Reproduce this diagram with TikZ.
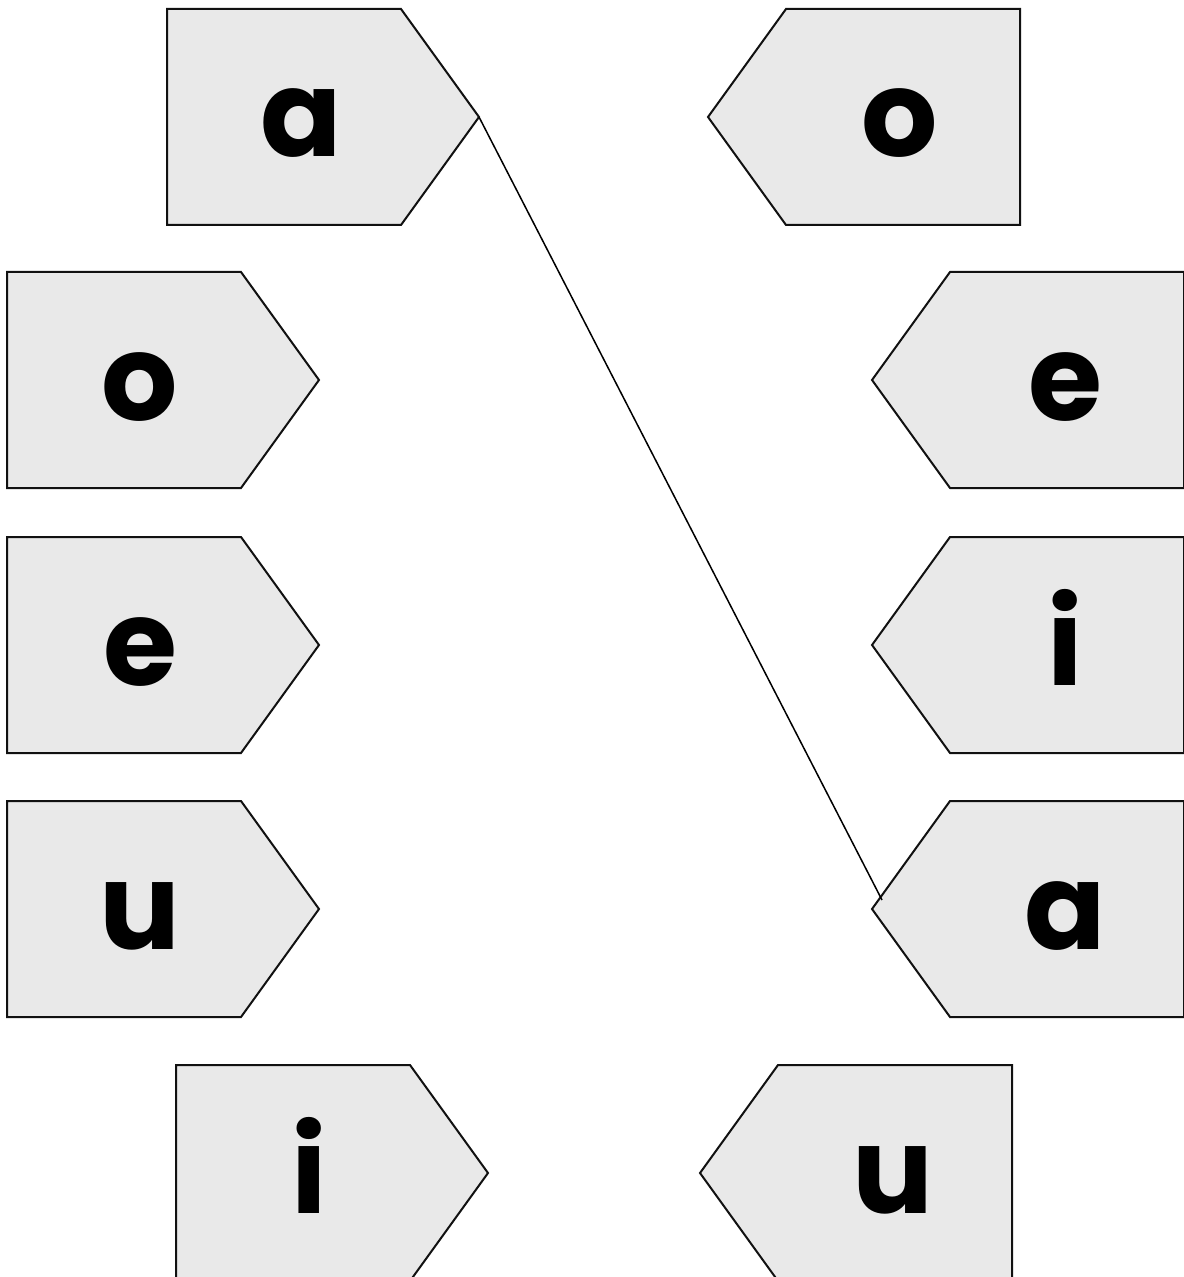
\documentclass[tikz,border=0pt]{standalone}
\usepackage{fontspec}
\setmainfont{Poppins}
\usetikzlibrary{calc}
\definecolor{tagfill}{HTML}{E9E9E9}
\definecolor{tagline}{HTML}{111111}

\tikzset{
  tagbox/.style={fill=tagfill, draw=tagline, line width=1bp, line join=miter},
  letter/.style={text=black, font=\bfseries\fontsize{60bp}{60bp}\selectfont, anchor=base, inner sep=0pt},
  matchline/.style={draw=black, line width=0.75bp}
}

\begin{document}
\begin{tikzpicture}[x=0.5bp, y=-0.5bp]

% Frame
\useasboundingbox (0,0) rectangle (1184,1277);

% Left column (pointing right)
\draw[tagbox] (167,9) -- (401,9) -- (479,117) -- (401,225) -- (167,225) -- cycle;
\node[letter] (la) at (301,157) {a};
\coordinate (la tip) at (479,117);

\draw[tagbox] (7,272) -- (241,272) -- (319,380) -- (241,488) -- (7,488) -- cycle;
\node[letter] (lo) at (140,420) {o};

\draw[tagbox] (7,537) -- (241,537) -- (319,645) -- (241,753) -- (7,753) -- cycle;
\node[letter] (le) at (140,685) {e};

\draw[tagbox] (7,801) -- (241,801) -- (319,909) -- (241,1017) -- (7,1017) -- cycle;
\node[letter] (lu) at (140,949) {u};

\draw[tagbox] (176,1065) -- (410,1065) -- (488,1173) -- (410,1281) -- (176,1281) -- cycle;
\node[letter] (li) at (309,1213) {i};

% Right column (pointing left)
\draw[tagbox] (708,117) -- (786,9) -- (1020,9) -- (1020,225) -- (786,225) -- cycle;
\node[letter] (ro) at (900,157) {o};

\draw[tagbox] (872,380) -- (950,272) -- (1184,272) -- (1184,488) -- (950,488) -- cycle;
\node[letter] (re) at (1065,420) {e};

\draw[tagbox] (872,645) -- (950,537) -- (1184,537) -- (1184,753) -- (950,753) -- cycle;
\node[letter] (ri) at (1065,685) {i};

\draw[tagbox] (872,909) -- (950,801) -- (1184,801) -- (1184,1017) -- (950,1017) -- cycle;
\node[letter] (ra) at (1065,949) {a};
\coordinate (ra tip) at (882,900);

\draw[tagbox] (700,1173) -- (778,1065) -- (1012,1065) -- (1012,1281) -- (778,1281) -- cycle;
\node[letter] (ru) at (893,1213) {u};

% Match a -- a
\draw[matchline] (la tip) -- (ra tip);

\end{tikzpicture}
\end{document}
